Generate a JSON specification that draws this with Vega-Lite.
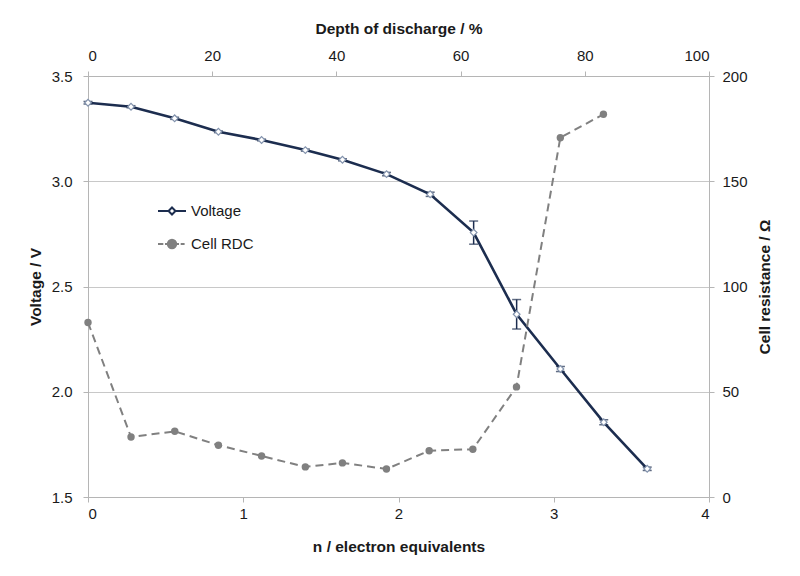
{
  "$schema": "https://vega.github.io/schema/vega-lite/v6.json",
  "width": 621,
  "height": 421,
  "autosize": {"type": "none"},
  "padding": {"left": 88, "top": 76, "right": 91, "bottom": 79},
  "background": "white",
  "config": {
    "font": "Liberation Sans",
    "view": {"stroke": null},
    "axis": {
      "labelFont": "Liberation Sans",
      "labelFontSize": 15,
      "labelColor": "#1a1a1a",
      "titleFont": "Liberation Sans",
      "titleFontSize": 15.5,
      "titleFontWeight": "bold",
      "titleColor": "#1a1a1a",
      "domainColor": "#b5b5b5",
      "tickColor": "#b5b5b5",
      "gridColor": "#c8c8c8",
      "tickSize": 5,
      "domainWidth": 1,
      "tickWidth": 1,
      "gridWidth": 1
    }
  },
  "datasets": {
    "volt": [
      {"n": 0, "v": 3.373, "err": 0.006},
      {"n": 0.277, "v": 3.354, "err": 0.005},
      {"n": 0.558, "v": 3.299, "err": 0.005},
      {"n": 0.84, "v": 3.235, "err": 0.004},
      {"n": 1.118, "v": 3.196, "err": 0.004},
      {"n": 1.4, "v": 3.148, "err": 0.005},
      {"n": 1.639, "v": 3.102, "err": 0.005},
      {"n": 1.923, "v": 3.034, "err": 0.008},
      {"n": 2.204, "v": 2.938, "err": 0.01},
      {"n": 2.484, "v": 2.756, "err": 0.055},
      {"n": 2.761, "v": 2.368, "err": 0.07},
      {"n": 3.043, "v": 2.108, "err": 0.012},
      {"n": 3.322, "v": 1.855, "err": 0.012},
      {"n": 3.602, "v": 1.634, "err": 0.008}
    ],
    "rdc": [
      {"dod": 0, "r": 82.9},
      {"dod": 6.93, "r": 28.5},
      {"dod": 13.97, "r": 31.2},
      {"dod": 21.0, "r": 24.6},
      {"dod": 27.95, "r": 19.5},
      {"dod": 35.0, "r": 14.3},
      {"dod": 40.97, "r": 16.2},
      {"dod": 48.06, "r": 13.3},
      {"dod": 54.94, "r": 22.0},
      {"dod": 61.97, "r": 22.7},
      {"dod": 69.0, "r": 52.3},
      {"dod": 76.06, "r": 170.7},
      {"dod": 83.0, "r": 181.8}
    ]
  },
  "layer": [
    {
      "data": {"name": "volt"},
      "encoding": {
        "x": {
          "field": "n", "type": "quantitative",
          "scale": {"domain": [0, 4], "nice": false, "zero": false},
          "axis": {"orient": "bottom", "values": [0, 1, 2, 3, 4], "title": "n / electron equivalents", "grid": false, "labelPadding": 4, "titlePadding": 18}
        },
        "y": {
          "field": "v", "type": "quantitative",
          "scale": {"domain": [1.5, 3.5], "nice": false, "zero": false},
          "axis": {"orient": "left", "values": [1.5, 2, 2.5, 3, 3.5], "format": ".1f", "title": "Voltage / V", "grid": true, "labelPadding": 11, "titlePadding": 8}
        }
      },
      "layer": [
        {
          "mark": {"type": "line", "strokeWidth": 2.6},
          "encoding": {
            "color": {
              "datum": "Voltage",
              "scale": {"domain": ["Voltage", "Cell RDC"], "range": ["#1c2d4f", "#808080"]},
              "legend": {
                "orient": "none",
                "legendX": 69,
                "legendY": 120,
                "title": null,
                "padding": 0,
                "symbolSize": 784,
                "rowPadding": 10,
                "labelFont": "Liberation Sans",
                "labelFontSize": 15,
                "labelColor": "#1a1a1a",
                "labelOffset": 4,
                "encode": {
                  "symbols": {
                    "update": {
                      "shape": {"signal": "datum.value === 'Voltage' ? 'M-1,0H-0.25M0.25,0H1M0,-0.25L0.25,0L0,0.25L-0.25,0Z' : 'M-1,0H-0.62M-0.5,0H-0.3M0.3,0H0.5M0.62,0H0.9M0.3,0A0.3,0.3,0,1,1,-0.3,0A0.3,0.3,0,1,1,0.3,0Z'"},
                      "fill": {"signal": "datum.value === 'Voltage' ? '#ffffff' : '#808080'"},
                      "stroke": {"signal": "datum.value === 'Voltage' ? '#1c2d4f' : '#808080'"},
                      "strokeWidth": {"value": 2},
                      "strokeDash": {"value": []},
                      "opacity": {"value": 1}
                    }
                  }
                }
              }
            }
          }
        },
        {
          "mark": {"type": "errorbar", "color": "#1c2d4f", "thickness": 1.5, "ticks": {"size": 9, "thickness": 1.5}},
          "encoding": {"yError": {"field": "err"}}
        },
        {
          "mark": {"type": "point", "shape": "diamond", "filled": true, "fill": "#ffffff", "stroke": "#8393ad", "strokeWidth": 1.2, "size": 45, "opacity": 1}
        }
      ]
    },
    {
      "data": {"name": "rdc"},
      "encoding": {
        "x": {
          "field": "dod", "type": "quantitative",
          "scale": {"domain": [0, 100], "nice": false, "zero": false},
          "axis": {"orient": "top", "values": [0, 20, 40, 60, 80, 100], "title": "Depth of discharge / %", "grid": false, "labelPadding": 8, "titlePadding": 12}
        },
        "y": {
          "field": "r", "type": "quantitative",
          "scale": {"domain": [0, 200], "nice": false},
          "axis": {"orient": "right", "values": [0, 50, 100, 150, 200], "title": "Cell resistance / Ω", "grid": false, "labelPadding": 8, "titlePadding": 10, "titleAngle": 270, "titleBaseline": "top"}
        }
      },
      "layer": [
        {
          "mark": {"type": "line", "strokeWidth": 2, "strokeDash": [8, 5]},
          "encoding": {"color": {"datum": "Cell RDC"}}
        },
        {
          "mark": {"type": "point", "shape": "circle", "filled": true, "color": "#808080", "size": 55, "opacity": 1}
        }
      ]
    }
  ],
  "resolve": {"scale": {"x": "independent", "y": "independent"}}
}
